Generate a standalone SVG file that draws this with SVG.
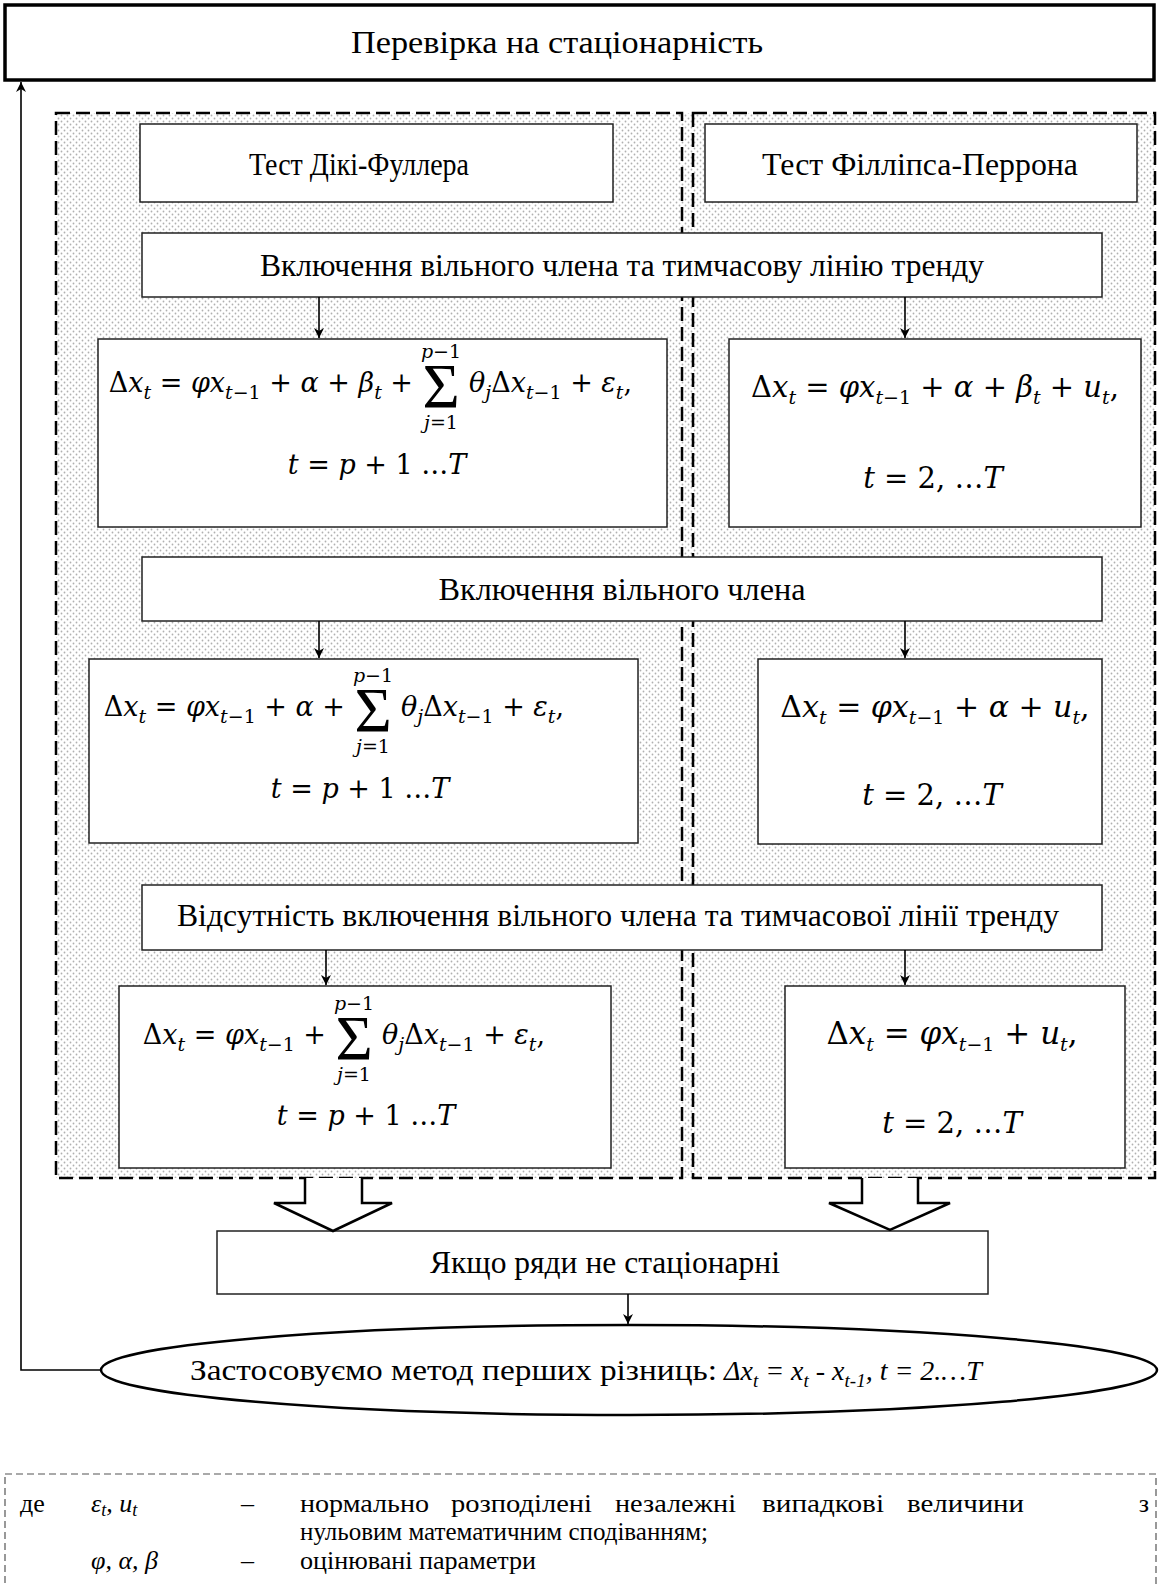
<svg xmlns="http://www.w3.org/2000/svg" width="1159" height="1586" viewBox="0 0 1159 1586">
<defs>
<pattern id="dots" width="6" height="6" patternUnits="userSpaceOnUse">
<rect width="6" height="6" fill="#ffffff"/>
<circle cx="1.5" cy="1.5" r="0.9" fill="#b0b0b0"/>
<circle cx="4.5" cy="4.5" r="0.9" fill="#b0b0b0"/>
</pattern>
<marker id="ah" markerWidth="12" markerHeight="12" refX="10" refY="5" orient="auto" markerUnits="userSpaceOnUse">
<path d="M0,0 L10,5 L0,10 L3,5 Z" fill="#000"/>
</marker>
</defs>
<style>
.box{fill:#fff;stroke:#222;stroke-width:1.5}
.t{font-family:"Liberation Serif","DejaVu Serif",serif;font-size:32px;fill:#000;text-anchor:middle}
.ts{font-family:"Liberation Serif","DejaVu Serif",serif;font-size:30px;fill:#000;text-anchor:start}
.m{font-family:"DejaVu Serif",serif;font-style:italic;font-size:27px;fill:#000}
.mr{font-family:"DejaVu Serif",serif;font-style:italic;font-size:29px;fill:#000;text-anchor:middle}
.u{font-style:normal}
.s{font-size:19px}
.lim{font-family:"DejaVu Serif",serif;font-style:italic;font-size:19px;text-anchor:middle}
.sig{font-family:"Liberation Serif","Times New Roman",serif;font-size:64px;text-anchor:middle}
.dash{fill:none;stroke:#000;stroke-width:2.5;stroke-dasharray:14,6}
.con{fill:none;stroke:#000;stroke-width:1.6}
.lg{font-family:"Liberation Serif","DejaVu Serif",serif;font-size:26px;fill:#000}
.lgi{font-style:italic}
</style>

<g id="top">
<rect x="5" y="5" width="1149" height="75" fill="#fff" stroke="#000" stroke-width="3.5"/>
<text class="t" x="557" y="53" textLength="412" lengthAdjust="spacingAndGlyphs">Перевірка на стаціонарність</text>
</g>

<g id="containers">
<rect x="56" y="113" width="1100" height="1065" fill="url(#dots)"/>
<rect class="dash" x="56" y="113" width="626" height="1065"/>
<rect class="dash" x="693" y="113" width="462" height="1065"/>
</g>

<g id="df">
<rect class="box" x="140" y="124" width="473" height="78"/>
<text class="t" x="359" y="175" textLength="220" lengthAdjust="spacingAndGlyphs">Тест Дікі-Фуллера</text>
</g>
<g id="pp">
<rect class="box" x="705" y="124" width="432" height="78"/>
<text class="t" x="920" y="175" textLength="316" lengthAdjust="spacingAndGlyphs">Тест Філліпса-Перрона</text>
</g>

<g id="band1">
<rect class="box" x="142" y="233" width="960" height="64"/>
<text class="t" x="622" y="276" textLength="724" lengthAdjust="spacingAndGlyphs">Включення вільного члена та тимчасову лінію тренду</text>
</g>

<g id="fl1">
<rect class="box" x="98" y="339" width="569" height="188"/>
<text class="m" x="413" y="392" text-anchor="end"><tspan class="u">Δ</tspan>x<tspan class="s" dy="7">t</tspan><tspan class="u" dy="-7"> = </tspan>φx<tspan class="s" dy="7">t<tspan class="u">−1</tspan></tspan><tspan class="u" dy="-7"> + </tspan>α<tspan class="u"> + </tspan>β<tspan class="s" dy="7">t</tspan><tspan class="u" dy="-7"> +</tspan></text>
<text class="sig" x="441" y="408">Σ</text>
<text class="lim" x="441" y="358">p<tspan class="u">−1</tspan></text>
<text class="lim" x="441" y="429">j<tspan class="u">=1</tspan></text>
<text class="m" x="469" y="392">θ<tspan class="s" dy="7">j</tspan><tspan class="u" dy="-7">Δ</tspan>x<tspan class="s" dy="7">t<tspan class="u">−1</tspan></tspan><tspan class="u" dy="-7"> + </tspan>ε<tspan class="s" dy="7">t</tspan><tspan class="u" dy="-7">,</tspan></text>
<text class="m" x="377" y="474" text-anchor="middle">t<tspan class="u"> = </tspan>p<tspan class="u"> + 1 …</tspan>T</text>
</g>

<g id="fr1">
<rect class="box" x="729" y="339" width="412" height="188"/>
<text class="mr" x="935" y="397"><tspan class="u">Δ</tspan>x<tspan class="s" dy="7">t</tspan><tspan class="u" dy="-7"> = </tspan>φx<tspan class="s" dy="7">t<tspan class="u">−1</tspan></tspan><tspan class="u" dy="-7"> + </tspan>α<tspan class="u"> + </tspan>β<tspan class="s" dy="7">t</tspan><tspan class="u" dy="-7"> + </tspan>u<tspan class="s" dy="7">t</tspan><tspan class="u" dy="-7">,</tspan></text>
<text class="mr" x="933" y="488">t<tspan class="u"> = 2, …</tspan>T</text>
</g>

<g id="band2">
<rect class="box" x="142" y="557" width="960" height="64"/>
<text class="t" x="622" y="600" textLength="367" lengthAdjust="spacingAndGlyphs">Включення вільного члена</text>
</g>

<g id="fl2">
<rect class="box" x="89" y="659" width="549" height="184"/>
<text class="m" x="345" y="716" text-anchor="end"><tspan class="u">Δ</tspan>x<tspan class="s" dy="7">t</tspan><tspan class="u" dy="-7"> = </tspan>φx<tspan class="s" dy="7">t<tspan class="u">−1</tspan></tspan><tspan class="u" dy="-7"> + </tspan>α<tspan class="u"> +</tspan></text>
<text class="sig" x="373" y="732">Σ</text>
<text class="lim" x="373" y="682">p<tspan class="u">−1</tspan></text>
<text class="lim" x="373" y="753">j<tspan class="u">=1</tspan></text>
<text class="m" x="401" y="716">θ<tspan class="s" dy="7">j</tspan><tspan class="u" dy="-7">Δ</tspan>x<tspan class="s" dy="7">t<tspan class="u">−1</tspan></tspan><tspan class="u" dy="-7"> + </tspan>ε<tspan class="s" dy="7">t</tspan><tspan class="u" dy="-7">,</tspan></text>
<text class="m" x="360" y="798" text-anchor="middle">t<tspan class="u"> = </tspan>p<tspan class="u"> + 1 …</tspan>T</text>
</g>

<g id="fr2">
<rect class="box" x="758" y="659" width="344" height="185"/>
<text class="mr" x="935" y="717" style="font-size:30px"><tspan class="u">Δ</tspan>x<tspan class="s" dy="7">t</tspan><tspan class="u" dy="-7"> = </tspan>φx<tspan class="s" dy="7">t<tspan class="u">−1</tspan></tspan><tspan class="u" dy="-7"> + </tspan>α<tspan class="u"> + </tspan>u<tspan class="s" dy="7">t</tspan><tspan class="u" dy="-7">,</tspan></text>
<text class="mr" x="932" y="805">t<tspan class="u"> = 2,  …</tspan>T</text>
</g>

<g id="band3">
<rect class="box" x="142" y="885" width="960" height="65"/>
<text class="t" x="618" y="926" textLength="882" lengthAdjust="spacingAndGlyphs">Відсутність включення вільного члена та тимчасової лінії тренду</text>
</g>

<g id="fl3">
<rect class="box" x="119" y="986" width="492" height="182"/>
<text class="m" x="326" y="1044" text-anchor="end"><tspan class="u">Δ</tspan>x<tspan class="s" dy="7">t</tspan><tspan class="u" dy="-7"> = </tspan>φx<tspan class="s" dy="7">t<tspan class="u">−1</tspan></tspan><tspan class="u" dy="-7"> +</tspan></text>
<text class="sig" x="354" y="1060">Σ</text>
<text class="lim" x="354" y="1010">p<tspan class="u">−1</tspan></text>
<text class="lim" x="354" y="1081">j<tspan class="u">=1</tspan></text>
<text class="m" x="382" y="1044">θ<tspan class="s" dy="7">j</tspan><tspan class="u" dy="-7">Δ</tspan>x<tspan class="s" dy="7">t<tspan class="u">−1</tspan></tspan><tspan class="u" dy="-7"> + </tspan>ε<tspan class="s" dy="7">t</tspan><tspan class="u" dy="-7">,</tspan></text>
<text class="m" x="366" y="1125" text-anchor="middle">t<tspan class="u"> = </tspan>p<tspan class="u"> + 1 …</tspan>T</text>
</g>

<g id="fr3">
<rect class="box" x="785" y="986" width="340" height="182"/>
<text class="mr" x="952" y="1044" style="font-size:31px"><tspan class="u">Δ</tspan>x<tspan class="s" dy="7">t</tspan><tspan class="u" dy="-7"> = </tspan>φx<tspan class="s" dy="7">t<tspan class="u">−1</tspan></tspan><tspan class="u" dy="-7"> + </tspan>u<tspan class="s" dy="7">t</tspan><tspan class="u" dy="-7">,</tspan></text>
<text class="mr" x="952" y="1133">t<tspan class="u"> = 2,  …</tspan>T</text>
</g>

<g id="result">
<rect class="box" x="217" y="1231" width="771" height="63"/>
<text class="t" x="605" y="1273" textLength="350" lengthAdjust="spacingAndGlyphs">Якщо ряди не стаціонарні</text>
</g>

<g id="method">
<ellipse cx="629" cy="1370" rx="528" ry="45" fill="#fff" stroke="#000" stroke-width="2.5"/>
<text class="ts" x="190" y="1380" textLength="527" lengthAdjust="spacingAndGlyphs">Застосовуємо метод перших різниць:</text>
<text class="ts" x="724" y="1380" style="font-size:28px;font-style:italic">Δx<tspan font-size="19px" dy="7">t</tspan><tspan dy="-7"> = x</tspan><tspan font-size="19px" dy="7">t</tspan><tspan dy="-7"> - x</tspan><tspan font-size="19px" dy="7">t-1</tspan><tspan dy="-7">, t = 2.…T</tspan></text>
</g>

<g id="connectors">
<line class="con" x1="319" y1="297" x2="319" y2="338" marker-end="url(#ah)"/>
<line class="con" x1="905" y1="297" x2="905" y2="338" marker-end="url(#ah)"/>
<line class="con" x1="319" y1="621" x2="319" y2="658" marker-end="url(#ah)"/>
<line class="con" x1="905" y1="621" x2="905" y2="658" marker-end="url(#ah)"/>
<line class="con" x1="326" y1="950" x2="326" y2="985" marker-end="url(#ah)"/>
<line class="con" x1="905" y1="950" x2="905" y2="985" marker-end="url(#ah)"/>
<line class="con" x1="628" y1="1294" x2="628" y2="1324" marker-end="url(#ah)"/>
<polyline class="con" points="101,1370 21,1370 21,82" marker-end="url(#ah)"/>
<path d="M305,1178 L305,1203 L274,1203 L333,1231 L392,1203 L362,1203 L362,1178" fill="#fff" stroke="#000" stroke-width="2.5"/>
<path d="M862,1178 L862,1203 L829,1203 L890,1230 L950,1203 L918,1203 L918,1178" fill="#fff" stroke="#000" stroke-width="2.5"/>
</g>

<g id="legend">
<rect x="5" y="1474" width="1151" height="130" fill="none" stroke="#555" stroke-width="1.2" stroke-dasharray="7,4"/>
<text class="lg" x="20" y="1512">де</text>
<text class="lg lgi" x="91" y="1512">ε<tspan font-size="18px" dy="4">t</tspan><tspan dy="-4">, u</tspan><tspan font-size="18px" dy="4">t</tspan></text>
<text class="lg" x="241" y="1512">–</text>
<text class="lg" x="300" y="1512" textLength="129" lengthAdjust="spacingAndGlyphs">нормально</text>
<text class="lg" x="451" y="1512" textLength="141" lengthAdjust="spacingAndGlyphs">розподілені</text>
<text class="lg" x="615" y="1512" textLength="121" lengthAdjust="spacingAndGlyphs">незалежні</text>
<text class="lg" x="762" y="1512" textLength="122" lengthAdjust="spacingAndGlyphs">випадкові</text>
<text class="lg" x="907" y="1512" textLength="117" lengthAdjust="spacingAndGlyphs">величини</text>
<text class="lg" x="1149" y="1512" style="text-anchor:end">з</text>
<text class="lg" x="300" y="1540" textLength="408" lengthAdjust="spacingAndGlyphs">нульовим математичним сподіванням;</text>
<text class="lg lgi" x="91" y="1569">φ, α, β</text>
<text class="lg" x="241" y="1569">–</text>
<text class="lg" x="300" y="1569" textLength="236" lengthAdjust="spacingAndGlyphs">оцінювані параметри</text>
</g>
</svg>
